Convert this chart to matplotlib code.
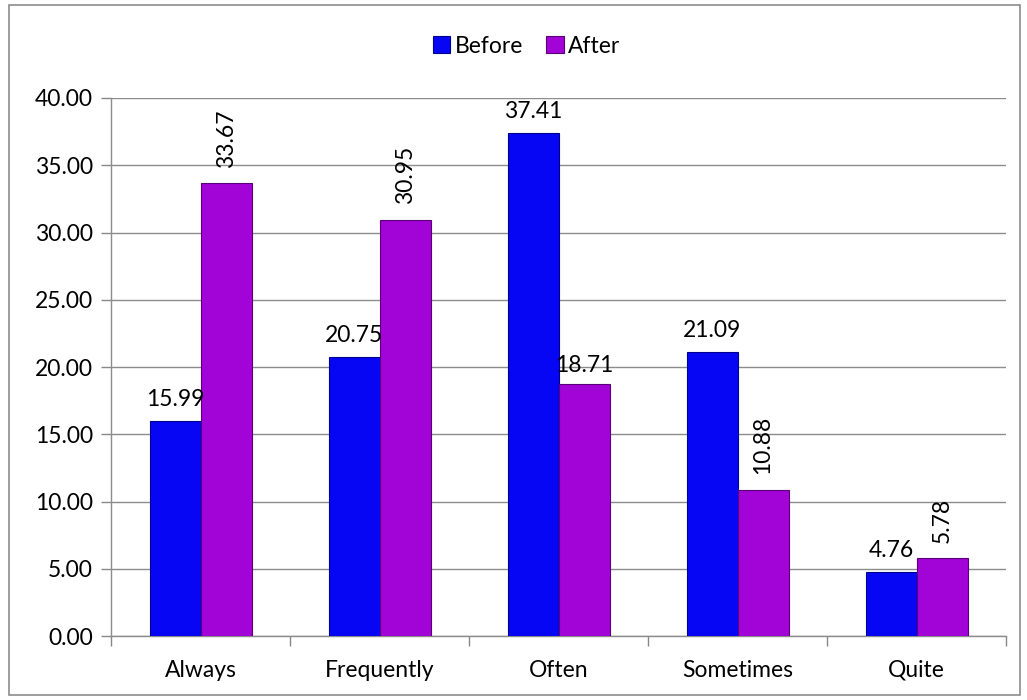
import numpy as np
import matplotlib.pyplot as plt
from matplotlib.patches import Rectangle

categories = ['Always', 'Frequently', 'Often', 'Sometimes', 'Quite']
before = [15.99, 20.75, 37.41, 21.09, 4.76]
after = [33.67, 30.95, 18.71, 10.88, 5.78]
# which "After" labels are drawn rotated in the original
after_rotated = [True, True, False, True, True]

plt.rcParams['font.family'] = ['Lato', 'DejaVu Sans']
fs = 16.5

fig = plt.figure(figsize=(10.27, 7.0), dpi=100)
ax = fig.add_axes([0.1081, 0.0914, 0.8715, 0.7686])

x = np.arange(len(categories))
w = 0.285
blue = '#0606f5'
purple = '#a203d6'

b1 = ax.bar(x - w / 2, before, w, color=blue, edgecolor='#00008a', linewidth=0.8,
            label='Before', zorder=3)
b2 = ax.bar(x + w / 2, after, w, color=purple, edgecolor='#5a0078', linewidth=0.8,
            label='After', zorder=3)

for xi, v in zip(x, before):
    ax.annotate(f'{v:.2f}', (xi - w / 2, v), xytext=(0, 8), textcoords='offset points',
                ha='center', va='bottom', fontsize=fs)
for xi, v, rot in zip(x, after, after_rotated):
    if rot:
        ax.annotate(f'{v:.2f}', (xi + w / 2, v), xytext=(0, 11), textcoords='offset points',
                    ha='center', va='bottom', rotation=90, fontsize=fs)
    else:
        ax.annotate(f'{v:.2f}', (xi + w / 2, v), xytext=(0, 6), textcoords='offset points',
                    ha='center', va='bottom', fontsize=fs)

ax.set_ylim(0, 40)
ax.set_yticks(np.arange(0, 40.1, 5))
ax.set_yticklabels([f'{t:.2f}' for t in np.arange(0, 40.1, 5)])
ax.set_xlim(-0.5, len(categories) - 0.5)
ax.set_xticks(x)
ax.set_xticklabels(categories)
ax.set_xticks(np.arange(-0.5, len(categories)), minor=True)
ax.tick_params(axis='x', which='major', length=0, pad=17, labelsize=fs)
ax.tick_params(axis='x', which='minor', length=7, color='#888888', width=1)
ax.tick_params(axis='y', length=7, color='#888888', width=1, labelsize=fs, pad=6)

ax.grid(axis='y', color='#8c8c8c', linewidth=1.0, zorder=0)
for s in ['top', 'right']:
    ax.spines[s].set_visible(False)
for s in ['left', 'bottom']:
    ax.spines[s].set_color('#8c8c8c')
    ax.spines[s].set_linewidth(1.0)

fig.legend(handles=[b1, b2], loc='center', bbox_to_anchor=(0.513, 0.934), ncol=2,
           frameon=False, fontsize=fs, handlelength=0.75, handleheight=0.75,
           handletextpad=0.2, columnspacing=1.0)

fig.patches.append(Rectangle((9 / 1027, 5 / 700), 1011 / 1027, 690 / 700,
                             transform=fig.transFigure, fill=False,
                             edgecolor='#8c8c8c', linewidth=1.2))

fig.savefig('out.png', dpi=100)
